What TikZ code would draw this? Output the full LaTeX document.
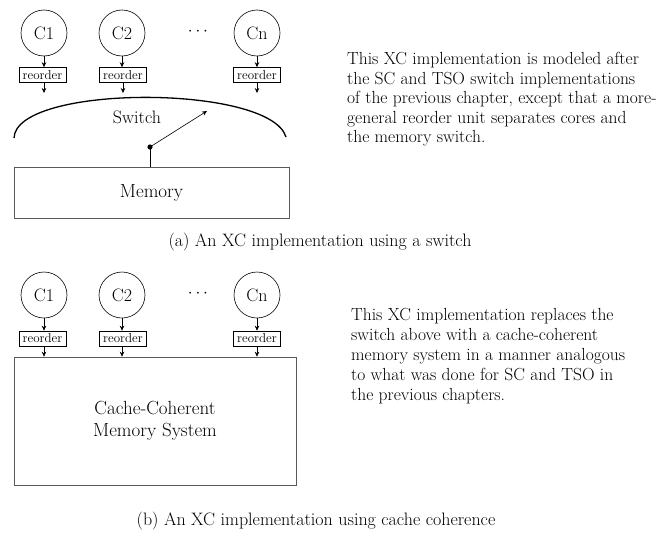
\documentclass[tikz,border=0pt]{standalone}
\usetikzlibrary{arrows.meta}
\begin{document}
\begin{tikzpicture}[x=1pt,y=-1pt,
  core/.style={draw,circle,line width=0.6pt,minimum size=46pt,inner sep=0pt,font=\fontsize{18}{20}\selectfont},
  ro/.style={draw,line width=0.6pt,minimum width=47pt,minimum height=15pt,inner sep=0pt,font=\fontsize{13}{14}\selectfont},
  membox/.style={draw=black!65,line width=0.6pt,inner sep=0pt,font=\fontsize{19}{22}\selectfont,align=center},
  arr/.style={line width=0.6pt,-{Stealth[length=5pt,width=4.5pt]}},
  txt/.style={anchor=base west,inner sep=0pt,font=\fontsize{17.5}{19}\selectfont},
  captext/.style={inner sep=0pt,font=\fontsize{18}{20}\selectfont}]
\useasboundingbox (0,0) rectangle (666,538);
% ---------- (a) ----------
\node[core] (c1) at (44,33) {C1};
\node[core] (c2) at (122,33) {C2};
\node[core] (cn) at (257,33) {Cn};
\node[font=\fontsize{18}{20}\selectfont] (dots) at (198,32) {$\cdots$};
\node[ro] (r1) at (42.5,75) {reorder};
\node[ro] (r2) at (123,75) {reorder};
\node[ro] (rn) at (257,75) {reorder};
\draw[arr] (c1.south) -- (r1.north -| c1.south);
\draw[arr] (c2.south) -- (r2.north -| c2.south);
\draw[arr] (cn.south) -- (rn.north -| cn.south);
\coordinate (o1) at (44,93);
\coordinate (o2) at (123,93);
\coordinate (on) at (257,93);
\draw[arr] (r1.south -| o1) -- (o1);
\draw[arr] (r2.south -| o2) -- (o2);
\draw[arr] (rn.south -| on) -- (on);
\coordinate (swl) at (14,138);
\coordinate (swr) at (286,137);
\draw[line width=1.3pt] (swl) .. controls (16,84) and (270,84) .. (swr);
\node[captext] (swt) at (137,117) {Switch};
\node[membox,minimum width=275pt,minimum height=51pt] (mem) at (151.5,192.5) {Memory};
\coordinate (sw) at (150,147);
\coordinate (swe) at (207,111);
\draw[line width=0.6pt] (sw) -- (sw |- mem.north);
\draw[arr] (sw) -- (swe);
\fill (sw) circle (2.6pt);
\node[txt] (ta1) at (347,64) {This XC implementation is modeled after};
\node[txt] (ta2) at (347,84) {the SC and TSO switch implementations};
\node[txt] (ta3) at (347,103) {of the previous chapter, except that a more-};
\node[txt] (ta4) at (347,123) {general reorder unit separates cores and};
\node[txt] (ta5) at (347,142) {the memory switch.};
\node[captext] (capa) at (320,242) {(a) An XC implementation using a switch};
% ---------- (b) ----------
\node[core] (d1) at (44,295) {C1};
\node[core] (d2) at (122,295) {C2};
\node[core] (dn) at (257,295) {Cn};
\node[font=\fontsize{18}{20}\selectfont] (dotsb) at (198,294) {$\cdots$};
\node[ro] (s1) at (42.5,338.5) {reorder};
\node[ro] (s2) at (123,338.5) {reorder};
\node[ro] (sn) at (257,338.5) {reorder};
\draw[arr] (d1.south) -- (s1.north -| d1.south);
\draw[arr] (d2.south) -- (s2.north -| d2.south);
\draw[arr] (dn.south) -- (sn.north -| dn.south);
\node[membox,minimum width=282pt,minimum height=128pt] (ccm) at (155,421) {Cache-Coherent\\[0pt]Memory System};
\draw[arr] (s1.south -| d1.south) -- (ccm.north -| d1.south);
\draw[arr] (s2.south -| d2.south) -- (ccm.north -| d2.south);
\draw[arr] (sn.south -| dn.south) -- (ccm.north -| dn.south);
\node[txt] (tb1) at (351,320) {This XC implementation replaces the};
\node[txt] (tb2) at (351,340) {switch above with a cache-coherent};
\node[txt] (tb3) at (351,360) {memory system in a manner analogous};
\node[txt] (tb4) at (351,380) {to what was done for SC and TSO in};
\node[txt] (tb5) at (351,400) {the previous chapters.};
\node[captext] (capb) at (316,521) {(b) An XC implementation using cache coherence};
\end{tikzpicture}
\end{document}
